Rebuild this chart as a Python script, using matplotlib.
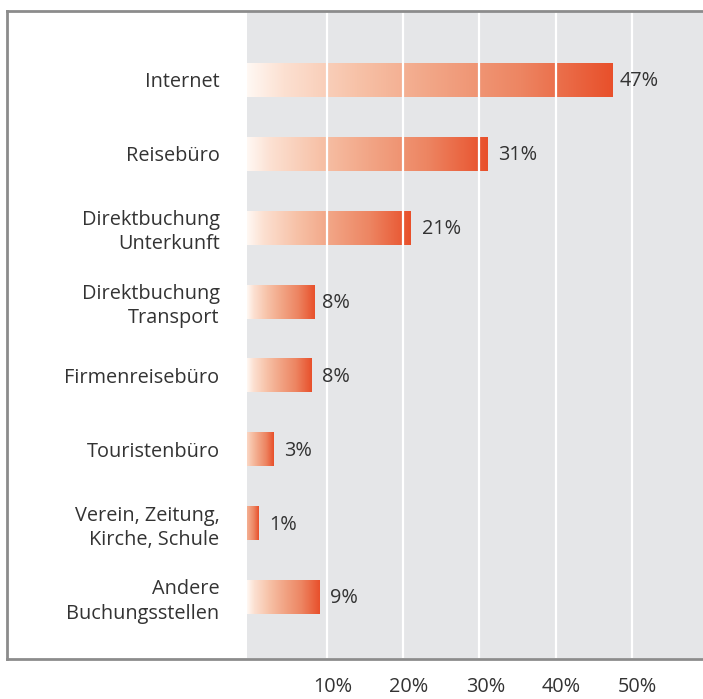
import matplotlib.pyplot as plt
import numpy as np
from matplotlib.colors import LinearSegmentedColormap
from matplotlib.lines import Line2D
from matplotlib.transforms import ScaledTranslation

# data
categories = ['Internet', 'Reisebüro', 'Direktbuchung\nUnterkunft', 'Direktbuchung\nTransport',
              'Firmenreisebüro', 'Touristenbüro', 'Verein, Zeitung,\nKirche, Schule',
              'Andere\nBuchungsstellen']
values = [47.4, 31.0, 21.0, 8.4, 8.0, 3.0, 1.0, 9.0]
value_labels = ['47%', '31%', '21%', '8%', '8%', '3%', '1%', '9%']
xticks = [10, 20, 30, 40, 50]

plt.rcParams['font.family'] = ['Open Sans', 'DejaVu Sans']

W, H = 703, 699
left_px = 246.7
pxpp = 7.63          # pixels per percent
x0 = -0.48           # bars start slightly left of zero

fig = plt.figure(figsize=(W / 100, H / 100), dpi=100)
ax = fig.add_axes([left_px / W, 1 - 658 / H, (W - left_px) / W, (658 - 12) / H])
ax.set_facecolor('#e5e6e8')

cmap = LinearSegmentedColormap.from_list('grad', [
    (0.0, '#fff8f3'), (0.1, '#fce0d1'), (0.3, '#f7c2a8'),
    (0.5, '#f2a687'), (0.75, '#ed8562'), (1.0, '#e8502b')])

bh = 0.46
for i, v in enumerate(values):
    start = max(0.0, 0.55 - 0.13 * v)
    grad = np.linspace(start, 1, 256).reshape(1, -1)
    ax.imshow(grad, extent=[x0, v, i + bh / 2, i - bh / 2], cmap=cmap, vmin=0, vmax=1,
              aspect='auto', interpolation='bilinear', zorder=1)
    ax.text(round(v) + 1.45, i + 0.02, value_labels[i], va='center', ha='left',
            fontsize=14.3, color='#333333')

for t in xticks:
    ax.axvline(t, color='white', lw=1.6, zorder=2)

ax.set_xlim(x0, x0 + (W - left_px) / pxpp)
ax.set_ylim(len(values) - 1 + 0.826, -0.92)

ax.set_yticks(range(len(categories)))
ax.set_yticklabels(categories, fontsize=14.3, color='#333333', linespacing=1.27)
ax.tick_params(axis='y', length=0, pad=19.5)
ax.set_xticks(xticks)
ax.set_xticklabels(['%d%%' % t for t in xticks], fontsize=14.3, color='#333333')
ax.tick_params(axis='x', length=0, pad=14)
for lab in ax.get_xticklabels():
    lab.set_transform(lab.get_transform() + ScaledTranslation(6 / 100, 0, fig.dpi_scale_trans))

for s in ax.spines.values():
    s.set_visible(False)

# frame lines
fc = '#8c8c8c'
fig.add_artist(Line2D([7 / W, 7 / W], [1 - 11 / H, 1 - 659 / H], color=fc, lw=2))
fig.add_artist(Line2D([7 / W, 1], [1 - 11 / H, 1 - 11 / H], color=fc, lw=2))
fig.add_artist(Line2D([7 / W, 1], [1 - 659 / H, 1 - 659 / H], color=fc, lw=2))

fig.savefig('out.png', dpi=100)
